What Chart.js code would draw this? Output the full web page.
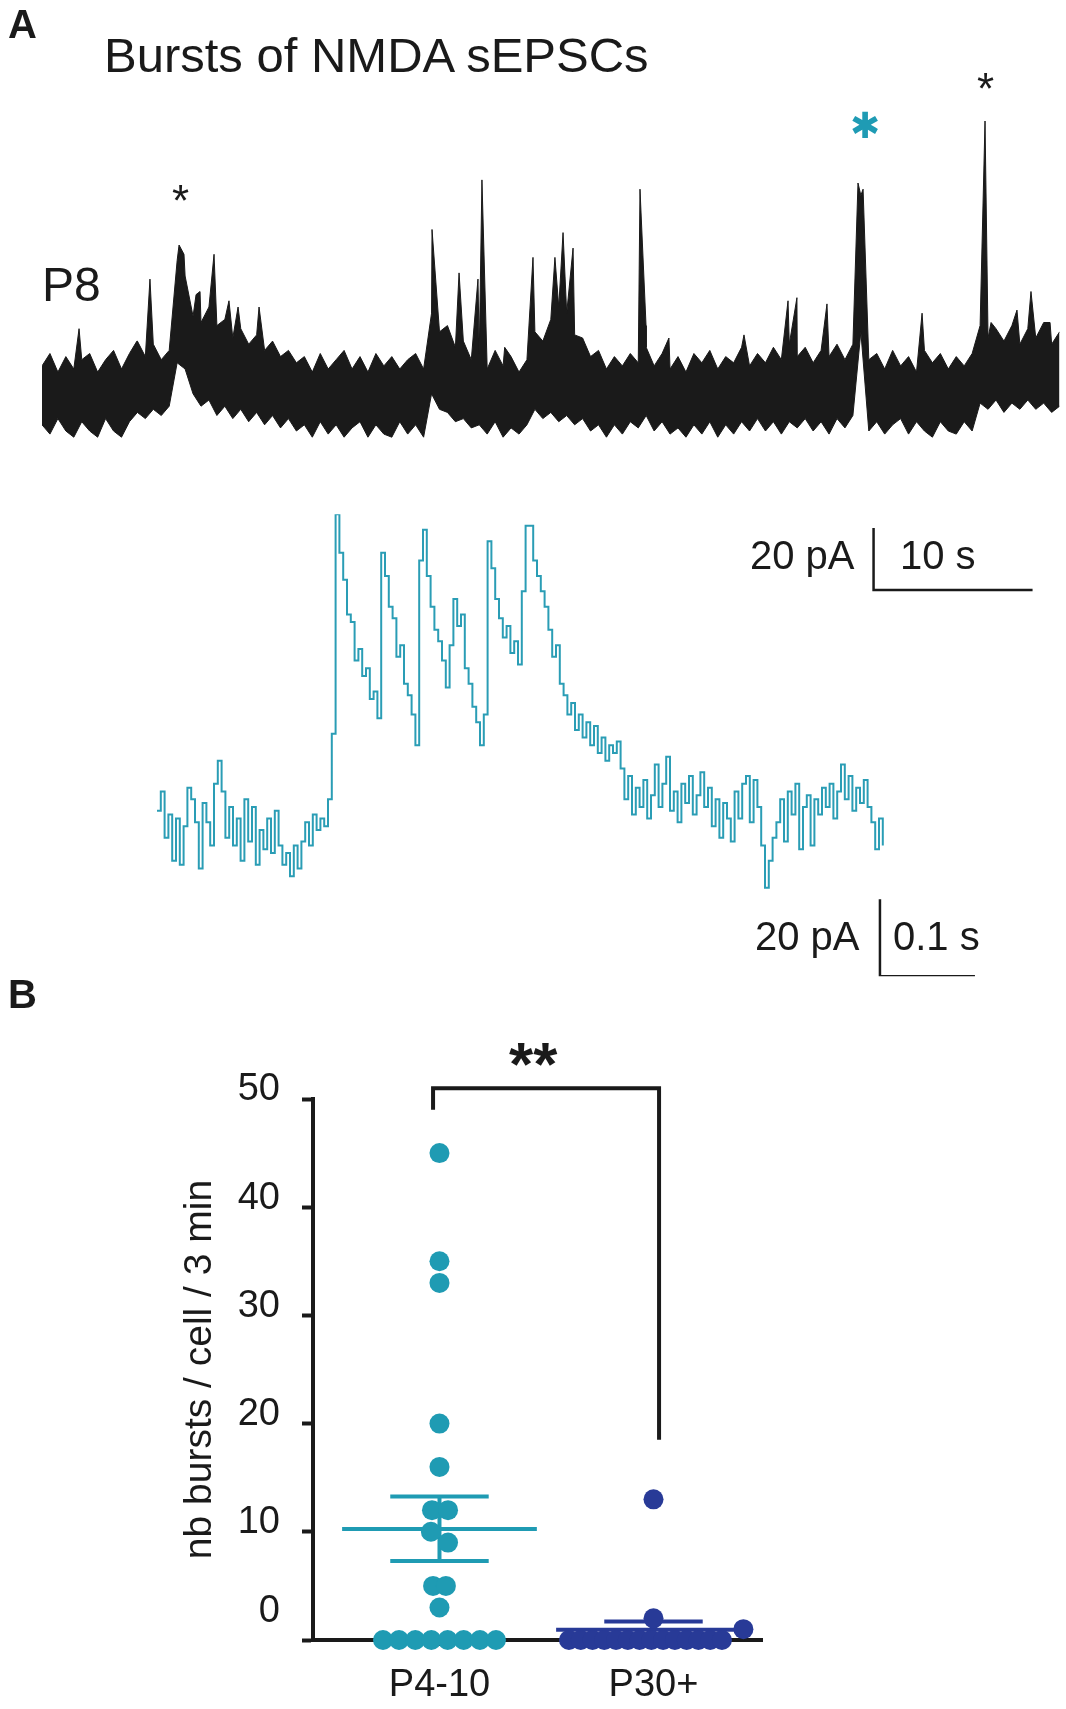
<!DOCTYPE html>
<html>
<head>
<meta charset="utf-8">
<script src="https://cdn.jsdelivr.net/npm/chart.js@4.4.1/dist/chart.umd.min.js"></script>
<style>
    html, body { margin: 0; padding: 0; background: #fff; }
    body { width: 1066px; height: 1709px; position: relative; overflow: hidden;
           font-family: "Liberation Sans", Arial, Helvetica, sans-serif; color: #1a1a1a; }
    canvas { position: absolute; left: 0; }
    .t { position: absolute; line-height: 1; white-space: nowrap; }
</style>
</head>
<body>
<canvas id="burstTrace" width="1066" height="600" style="top:0"></canvas>
<canvas id="zoomTrace" width="1066" height="520" style="top:480px"></canvas>
<canvas id="burstCount" width="1066" height="679" style="top:1030px"></canvas>

<div class="t" style="left:8px;top:4px;font-size:40px;font-weight:bold">A</div>
<div class="t" style="left:104px;top:31px;font-size:49px">Bursts of NMDA sEPSCs</div>
<div class="t" style="left:42px;top:261px;font-size:48px">P8</div>
<div class="t" style="left:172px;top:179px;font-size:44px">*</div>
<div class="t" style="left:977px;top:67px;font-size:44px">*</div>
<div class="t" style="left:843px;top:104px;width:44px;height:44px;font-size:36px;display:flex;align-items:center;justify-content:center;color:#1f9bb4;font-family:'DejaVu Sans';font-weight:bold">&#10033;</div>
<div class="t" style="left:750px;top:535px;font-size:40px">20 pA</div>
<div class="t" style="left:900px;top:535px;font-size:40px">10 s</div>
<div class="t" style="left:755px;top:916px;font-size:40px">20 pA</div>
<div class="t" style="left:893px;top:916px;font-size:40px">0.1 s</div>
<div class="t" style="left:8px;top:974px;font-size:40px;font-weight:bold">B</div>
<div class="t" style="left:509px;top:1033px;font-size:62px;font-weight:bold">**</div>

<script>
// ---- panel A, top: 64 s of recording, envelope every 0.5 s (pA) ----
var traceStep = 0.5;
var traceHigh = [11, 15, 9, 14, 10, 13, 15, 9, 13, 16, 10,
    15, 19, 14, 18, 13, 16,
    45, 40,
    27, 25, 30, 24, 26, 20, 23, 18, 21, 16, 19, 14, 16, 12,
    14, 9, 15, 10, 13, 16, 10, 14, 9, 15, 11, 14, 10, 13, 15, 10,
    28, 22, 24, 17, 19, 13,
    15, 10, 16, 11, 14, 9, 13,
    22, 19, 26, 30, 28, 21, 20, 14, 16, 10, 14, 11, 15,
    12, 17, 11, 15, 10, 14, 9, 15, 12, 16, 10, 14, 12, 17, 11, 15, 12, 17, 13, 18, 14, 17, 12, 16, 14, 18, 13,
    18, 66, 13,
    15, 10, 16, 11, 14, 9, 16, 12, 15, 10, 14, 11, 15,
    24, 20, 23, 19, 24, 18, 23, 20, 25, 18, 22];
var traceLow = [-8, -11, -6, -10, -12, -7, -10, -12, -6, -10, -12,
    -7, -4, -6, -3, -5, -2,
    12, 10,
    2, -2, 0, -5, -2, -6, -3, -7, -4, -8, -5, -9, -6, -10,
    -8, -12, -7, -11, -8, -12, -9, -7, -12, -8, -11, -12, -7, -11, -8, -12,
    2, -3, -4, -7, -6, -9,
    -8, -11, -7, -12, -9, -11, -8,
    -3, -6, -4, -7, -5, -8, -6, -10, -8, -12, -8, -11, -7,
    -9, -5, -10, -7, -11, -9, -12, -8, -11, -7, -12, -8, -11, -7, -10, -6, -10, -7, -11, -7, -9, -6, -10, -7, -11, -6, -9,
    -5, 22, -10,
    -7, -11, -8, -6, -11, -7, -10, -12, -7, -10, -11, -7, -10,
    -1, -3, 0, -4, -1, -3, 0, -3, -1, -4, -2];
// single sEPSCs rising above the noise band (s, pA)
var spikeTimes = [2.33, 5.97, 6.79, 8.62, 8.93, 9.69, 9.94, 10.82, 11.76, 12.33, 13.65, 24.53, 26.23, 27.42, 27.67,
    29.1, 30.88, 32.26, 32.77, 33.4, 37.61, 37.99, 39.43, 44.15, 46.92, 47.48, 49.37, 51.32, 51.64, 55.35,
    59.31, 59.69, 61.32, 62.2, 63.4];
var spikePeaks = [23, 19, 39, 50, 47, 34, 35, 47, 32, 30, 30, 55, 41, 39, 71,
    17, 46, 46, 54, 49, 68, 24, 20, 21, 32, 33, 31, 70, 68, 28,
    90, 25, 29, 35, 25];
var barTop = { t: 52.3, pA: -61.3, dt: 10, dI: 20 };   // 20 pA / 10 s

// ---- panel A, bottom: the marked burst, one sample every 4 ms (pA) ----
var zoomStep = 4;
var zoomAmp = [5, 10, -2, 4, -8, 3, -9, 1, 11, 8, 2, -10, 7, 2, -4, 12, 18, 10, -2, 6,
    -4, 3, -8, 8, -3, 6, -9, 0, -5, 3, -6, 5, -4, -9, -6, -12, -4, -10, -3, 2,
    -4, 4, 0, 3, 1, 8,
    25, 82, 72, 65, 56, 54, 44, 47, 40, 42, 34, 36, 29, 72, 66, 58, 55, 45, 48, 38,
    35, 30, 22, 70, 78, 66, 58, 52, 49, 44, 37, 48, 60, 53, 56, 42, 38, 32, 28, 22,
    30, 75, 68, 60, 55, 50, 53, 46, 49, 43, 62, 79, 79, 70, 66, 62, 58, 52, 45, 48,
    38, 35, 30, 33, 26, 30, 24, 28, 22, 27, 20, 24, 18, 22, 20, 23, 16, 8,
    14, 4, 11, 6, 13, 3, 9, 17, 6, 12, 19, 5, 10, 2, 12, 7, 14, 4, 9, 15,
    6, 11, 1, 8, -2, 7, 3, -3, 10, 3, 12, 14, 2, 13, 6, -4, -15, -8, -2, 2,
    8, -3, 10, 4, 12, -5, 6, 9, -4, 8, 4, 11, 6, 12, 3, 10, 17, 8, 14, 5,
    11, 7, 13, 6, 2, -5, 3, -4];
var barZoom = { t: 761, pA: -38, dt: 100, dI: 20 };   // 20 pA / 0.1 s

// ---- panel B: bursts per cell in 3 min ----
var groups = ['P4-10', 'P30+'];
var youngCounts = [45, 35, 33, 20, 16, 12, 12, 10, 9, 5, 5, 3, 0, 0, 0, 0, 0, 0, 0, 0];
var youngSpread = [0, 0, 0, 0, 0, -0.035, 0.04, -0.04, 0.04, -0.03, 0.03, 0,
    -0.264, -0.189, -0.113, -0.038, 0.038, 0.113, 0.189, 0.264];
var adultCounts = [13, 2, 1, 0, 0, 0, 0, 0, 0, 0, 0, 0, 0, 0, 0, 0, 0];
var adultSpread = [0, 0, 0.42, -0.395, -0.34, -0.285, -0.23, -0.175, -0.12, -0.065, -0.01,
    0.045, 0.10, 0.155, 0.21, 0.265, 0.32];
var groupMean = [10.25, 0.94];
var groupSemLow = [7.29, 0.2];
var groupSemHigh = [13.26, 1.72];
var bracket = { left: 0.97, right: 2.026, top: 51, leftFoot: 49, rightFoot: 18.5 };

var ink = '#1a1a1a';
var teal = '#1f9bb3';
var navy = '#283a97';
var traceTeal = '#2a9db5';
Chart.defaults.font.family = '"Liberation Sans", Arial, Helvetica, sans-serif';
Chart.defaults.color = ink;

function scaleBar(b) {
    return [{ x: b.t, y: b.pA + b.dI }, { x: b.t, y: b.pA }, { x: b.t + b.dt, y: b.pA }];
}

// top trace: noise band between envelopes, spikes added to the upper edge
var highPts = traceHigh.map(function (v, i) { return { x: i * traceStep, y: v }; });
for (var s = 0; s < spikeTimes.length; s++) {
    highPts.push({ x: spikeTimes[s], y: spikePeaks[s] });
}
highPts.sort(function (a, b) { return a.x - b.x; });
var lowPts = traceLow.map(function (v, i) { return { x: i * traceStep, y: v }; });

var hidden = { display: false };
new Chart(document.getElementById('burstTrace'), {
    type: 'line',
    data: {
        datasets: [{
            data: highPts, borderColor: ink, borderWidth: 1, pointRadius: 0, tension: 0, fill: false
        }, {
            data: lowPts, borderColor: ink, borderWidth: 1, pointRadius: 0, tension: 0,
            fill: '-1', backgroundColor: ink
        }, {
            data: scaleBar(barTop), borderColor: ink, borderWidth: 2.5, pointRadius: 0, fill: false
        }]
    },
    options: {
        responsive: false,
        animation: false,
        layout: { padding: { left: 42, right: 6.4, top: 114.8, bottom: 7.8 } },
        scales: {
            x: Object.assign({ type: 'linear', min: 0, max: 64 }, hidden),
            y: Object.assign({ min: -62, max: 92 }, hidden)
        },
        plugins: { legend: { display: false }, tooltip: { enabled: false } }
    }
});

new Chart(document.getElementById('zoomTrace'), {
    type: 'line',
    data: {
        datasets: [{
            data: zoomAmp.map(function (v, i) { return { x: i * zoomStep, y: v }; }),
            borderColor: traceTeal, borderWidth: 2, pointRadius: 0, stepped: true, fill: false
        }, {
            data: scaleBar(barZoom), borderColor: ink, borderWidth: 2.5, pointRadius: 0, fill: false
        }]
    },
    options: {
        responsive: false,
        animation: false,
        layout: { padding: { left: 157, right: 90.1, top: 34.3, bottom: 23.7 } },
        scales: {
            x: Object.assign({ type: 'linear', min: 0, max: 862 }, hidden),
            y: Object.assign({ min: -38, max: 82 }, hidden)
        },
        plugins: { legend: { display: false }, tooltip: { enabled: false } }
    }
});

// panel B
function dots(counts, spread, pos) {
    return counts.map(function (v, i) { return { x: pos + spread[i], y: v }; });
}
function lineSet(pts, color) {
    return { type: 'line', data: pts, borderColor: color, borderWidth: 4, pointRadius: 0,
        showLine: true, clip: false, fill: false };
}
// mean, SEM caps and SEM stem of one group
function errorSets(g, color) {
    var c = g + 1;
    return [
        lineSet([{ x: c - 0.455, y: groupMean[g] }, { x: c + 0.455, y: groupMean[g] }], color),
        lineSet([{ x: c - 0.23, y: groupSemHigh[g] }, { x: c + 0.23, y: groupSemHigh[g] }], color),
        lineSet([{ x: c - 0.23, y: groupSemLow[g] }, { x: c + 0.23, y: groupSemLow[g] }], color),
        lineSet([{ x: c, y: groupSemLow[g] }, { x: c, y: groupSemHigh[g] }], color)
    ];
}

var countSets = [
    { data: dots(youngCounts, youngSpread, 1), backgroundColor: teal, borderWidth: 0, pointRadius: 10, clip: false },
    { data: dots(adultCounts, adultSpread, 2), backgroundColor: navy, borderWidth: 0, pointRadius: 10, clip: false }
].concat(errorSets(0, teal), errorSets(1, navy), [
    lineSet([{ x: bracket.left, y: bracket.leftFoot }, { x: bracket.left, y: bracket.top },
        { x: bracket.right, y: bracket.top }, { x: bracket.right, y: bracket.rightFoot }], ink)
]);

new Chart(document.getElementById('burstCount'), {
    type: 'scatter',
    data: { datasets: countSets },
    options: {
        responsive: false,
        animation: false,
        layout: { padding: { left: 173, right: 304, top: 69, bottom: 0 } },
        scales: {
            x: {
                type: 'linear', min: 0.409, max: 2.507,
                afterBuildTicks: function (sc) { sc.ticks = [{ value: 1 }, { value: 2 }]; },
                afterFit: function (sc) { sc.height = 69; },
                ticks: {
                    callback: function (v) { return groups[v - 1] || ''; },
                    font: { size: 38 }, color: ink, padding: 17, autoSkip: false, maxRotation: 0
                },
                grid: { drawOnChartArea: false, tickLength: 6, tickWidth: 5, tickColor: ink },
                border: { color: ink, width: 4 }
            },
            y: {
                min: 0, max: 50,
                afterFit: function (sc) { sc.width = 140; },
                ticks: {
                    stepSize: 10,
                    callback: function (v) { return v === 0 ? ['0', ''] : String(v); },
                    font: { size: 38, lineHeight: 1 }, color: ink, padding: 22, labelOffset: -9
                },
                grid: { drawOnChartArea: false, tickLength: 11, tickWidth: 4, tickColor: ink },
                border: { color: ink, width: 4 },
                title: {
                    display: true, text: 'nb bursts / cell / 3 min', color: ink,
                    font: { size: 39 }, padding: { top: 4, bottom: 4 }
                }
            }
        },
        plugins: { legend: { display: false }, tooltip: { enabled: false } }
    }
});
</script>
</body>
</html>
